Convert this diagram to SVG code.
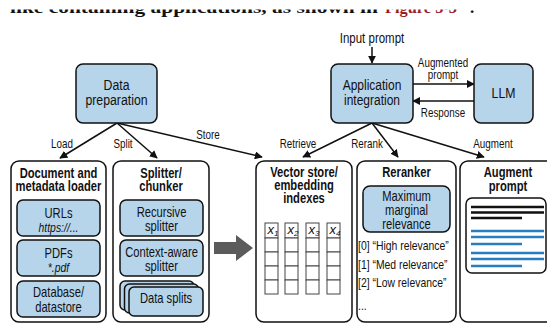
<svg xmlns="http://www.w3.org/2000/svg" width="547" height="323" viewBox="0 0 547 323">
  <defs>
    <style>
      text { font-family: 'Liberation Sans', Arial, sans-serif; fill: #111; }
      .node rect.box { fill: #b6d4ea; stroke: #111; stroke-width: 1.5; }
      .panel { fill: #fff; stroke: #111; stroke-width: 1.5; }
      .t15 { font-size: 15px; text-anchor: middle; }
      .t14 { font-size: 14px; text-anchor: middle; }
      .hdr { font-size: 14px; font-weight: bold; text-anchor: middle; }
      .lbl { font-size: 12px; text-anchor: middle; }
      .it { font-style: italic; font-size: 13px; }
      .lst { font-size: 13px; }
      .conn line { stroke: #111; stroke-width: 1.5; marker-end: url(#head); }
      .cell { fill: #fff; stroke: #444; stroke-width: 1; }
      .txt-black { stroke: #111; stroke-width: 2.5; }
      .txt-blue { stroke: #2a7cc0; stroke-width: 2.5; }
      .running { font-family: 'Liberation Serif', serif; font-weight: bold; font-size: 17px; }
    </style>
    <marker id="head" viewBox="0 0 10 10" refX="9" refY="5" markerWidth="8" markerHeight="8" markerUnits="userSpaceOnUse" orient="auto">
      <path d="M0,0 L10,5 L0,10 z" fill="#111"/>
    </marker>
  </defs>

  <rect width="547" height="323" fill="#fff"/>

  <!-- bottom edge of the preceding text line, the rest is cut off -->
  <g id="running-text">
    <text class="running" x="10" y="12.5" textLength="368" lengthAdjust="spacingAndGlyphs">like containing applications, as shown in</text>
    <text class="running" x="385" y="12.5" textLength="72" lengthAdjust="spacingAndGlyphs" style="fill:#9b1c1c">Figure 5-3</text>
    <text class="running" x="470" y="12.5">.</text>
    <rect x="0" y="0" width="547" height="9.5" fill="#fff"/>
  </g>

  <!-- connectors -->
  <g id="connectors" class="conn">
    <line x1="117" y1="123" x2="60" y2="158"/>
    <line x1="117" y1="123" x2="157" y2="158"/>
    <line x1="117" y1="123" x2="262" y2="157"/>
    <line x1="372" y1="47" x2="372" y2="63"/>
    <line x1="413" y1="84" x2="474" y2="84"/>
    <line x1="474" y1="101" x2="413" y2="101"/>
    <line x1="372" y1="123" x2="303" y2="157"/>
    <line x1="372" y1="123" x2="398" y2="157"/>
    <line x1="372" y1="123" x2="484" y2="157"/>
  </g>
  <g id="connector-labels">
    <text class="lbl" transform="translate(62 148) scale(0.82 1)">Load</text>
    <text class="lbl" transform="translate(123 148) scale(0.82 1)">Split</text>
    <text class="lbl" transform="translate(208 139) scale(0.82 1)">Store</text>
    <text class="lbl" style="font-size:14px" transform="translate(372 43) scale(0.82 1)">Input prompt</text>
    <text class="lbl" transform="translate(443 67) scale(0.82 1)">Augmented</text>
    <text class="lbl" transform="translate(443 79) scale(0.82 1)">prompt</text>
    <text class="lbl" transform="translate(443 117) scale(0.82 1)">Response</text>
    <text class="lbl" transform="translate(298 148) scale(0.82 1)">Retrieve</text>
    <text class="lbl" transform="translate(367 148) scale(0.82 1)">Rerank</text>
    <text class="lbl" transform="translate(493 148) scale(0.82 1)">Augment</text>
  </g>

  <!-- top row -->
  <g id="data-preparation" class="node">
    <rect class="box" x="76" y="64" width="81" height="59" rx="7"/>
    <text class="t15" transform="translate(116.5 90) scale(0.82 1)">Data</text>
    <text class="t15" transform="translate(116.5 105) scale(0.82 1)">preparation</text>
  </g>
  <g id="application-integration" class="node">
    <rect class="box" x="331" y="64" width="82" height="59" rx="7"/>
    <text class="t15" transform="translate(372 90) scale(0.8 1)">Application</text>
    <text class="t15" transform="translate(372 105) scale(0.8 1)">integration</text>
  </g>
  <g id="llm" class="node">
    <rect class="box" x="474" y="64" width="59" height="59" rx="7"/>
    <text class="t15" transform="translate(503.5 98) scale(0.82 1)">LLM</text>
  </g>

  <!-- transfer arrow between loading/splitting and storage -->
  <polygon points="214,242 236,242 236,235 253,248 236,261 236,254 214,254" fill="#5b5b5b"/>

  <!-- document and metadata loader -->
  <g id="loader" class="node">
    <rect class="panel" x="11" y="161" width="95" height="161" rx="8"/>
    <text class="hdr" transform="translate(58.5 178) scale(0.8 1)">Document and</text>
    <text class="hdr" transform="translate(58.5 191) scale(0.8 1)">metadata loader</text>
    <rect class="box" x="17" y="200" width="83" height="36" rx="6"/>
    <text class="t14" transform="translate(58.5 218) scale(0.8 1)">URLs</text>
    <text class="t14 it" transform="translate(58.5 232) scale(0.8 1)">https://...</text>
    <rect class="box" x="17" y="240" width="83" height="36" rx="6"/>
    <text class="t14" transform="translate(58.5 258) scale(0.8 1)">PDFs</text>
    <text class="t14 it" transform="translate(58.5 272) scale(0.8 1)">*.pdf</text>
    <rect class="box" x="17" y="281" width="83" height="36" rx="6"/>
    <text class="t14" transform="translate(58.5 297) scale(0.8 1)">Database/</text>
    <text class="t14" transform="translate(58.5 312) scale(0.8 1)">datastore</text>
  </g>

  <!-- splitter / chunker -->
  <g id="splitter" class="node">
    <rect class="panel" x="113" y="161" width="96" height="161" rx="8"/>
    <text class="hdr" transform="translate(161 178) scale(0.8 1)">Splitter/</text>
    <text class="hdr" transform="translate(161 191) scale(0.8 1)">chunker</text>
    <rect class="box" x="120" y="200" width="83" height="36" rx="6"/>
    <text class="t14" transform="translate(161.5 217) scale(0.8 1)">Recursive</text>
    <text class="t14" transform="translate(161.5 231) scale(0.8 1)">splitter</text>
    <rect class="box" x="120" y="240" width="83" height="36" rx="6"/>
    <text class="t14" transform="translate(161.5 257) scale(0.8 1)">Context-aware</text>
    <text class="t14" transform="translate(161.5 271) scale(0.8 1)">splitter</text>
    <rect class="box" x="120" y="281" width="74" height="29" rx="5"/>
    <rect class="box" x="124.5" y="284" width="74" height="29" rx="5"/>
    <rect class="box" x="129" y="287" width="74" height="29" rx="5"/>
    <text class="t14" transform="translate(166 303) scale(0.8 1)">Data splits</text>
  </g>

  <!-- vector store -->
  <g id="vector-store" class="node">
    <rect class="panel" x="256" y="161" width="96" height="161" rx="8"/>
    <text class="hdr" transform="translate(304 177) scale(0.8 1)">Vector store/</text>
    <text class="hdr" transform="translate(304 190) scale(0.8 1)">embedding</text>
    <text class="hdr" transform="translate(304 203) scale(0.8 1)">indexes</text>
    <g id="embedding-table">
      <rect class="cell" x="265" y="223" width="13" height="15"/>
      <rect class="cell" x="265" y="238" width="13" height="14"/>
      <rect class="cell" x="265" y="252" width="13" height="14"/>
      <rect class="cell" x="265" y="266" width="13" height="14"/>
      <rect class="cell" x="265" y="280" width="13" height="14"/>
      <rect class="cell" x="285" y="223" width="13" height="15"/>
      <rect class="cell" x="285" y="238" width="13" height="14"/>
      <rect class="cell" x="285" y="252" width="13" height="14"/>
      <rect class="cell" x="285" y="266" width="13" height="14"/>
      <rect class="cell" x="285" y="280" width="13" height="14"/>
      <rect class="cell" x="306" y="223" width="13" height="15"/>
      <rect class="cell" x="306" y="238" width="13" height="14"/>
      <rect class="cell" x="306" y="252" width="13" height="14"/>
      <rect class="cell" x="306" y="266" width="13" height="14"/>
      <rect class="cell" x="306" y="280" width="13" height="14"/>
      <rect class="cell" x="327" y="223" width="13" height="15"/>
      <rect class="cell" x="327" y="238" width="13" height="14"/>
      <rect class="cell" x="327" y="252" width="13" height="14"/>
      <rect class="cell" x="327" y="266" width="13" height="14"/>
      <rect class="cell" x="327" y="280" width="13" height="14"/>
      <text class="it" x="267.5" y="233.5">x<tspan font-size="8" dy="2">1</tspan></text>
      <text class="it" x="287.5" y="233.5">x<tspan font-size="8" dy="2">2</tspan></text>
      <text class="it" x="308.5" y="233.5">x<tspan font-size="8" dy="2">3</tspan></text>
      <text class="it" x="329.5" y="233.5">x<tspan font-size="8" dy="2">4</tspan></text>
    </g>
  </g>

  <!-- reranker -->
  <g id="reranker" class="node">
    <rect class="panel" x="357" y="161" width="99" height="161" rx="8"/>
    <text class="hdr" transform="translate(406.5 177) scale(0.8 1)">Reranker</text>
    <rect class="box" x="363" y="186" width="87" height="46" rx="7"/>
    <text class="t14" transform="translate(406.5 201) scale(0.8 1)">Maximum</text>
    <text class="t14" transform="translate(406.5 215) scale(0.8 1)">marginal</text>
    <text class="t14" transform="translate(406.5 229) scale(0.8 1)">relevance</text>
    <text class="lst" transform="translate(358 250) scale(0.8 1)">[0] “High relevance”</text>
    <text class="lst" transform="translate(358 269) scale(0.8 1)">[1] “Med relevance”</text>
    <text class="lst" transform="translate(358 287) scale(0.8 1)">[2] “Low relevance”</text>
    <text class="lst" transform="translate(358 310) scale(0.8 1)">...</text>
  </g>

  <!-- augment prompt -->
  <g id="augment-prompt" class="node">
    <rect class="panel" x="460" y="161" width="95" height="161" rx="8"/>
    <text class="hdr" transform="translate(508 177) scale(0.8 1)">Augment</text>
    <text class="hdr" transform="translate(508 191) scale(0.8 1)">prompt</text>
    <rect x="466" y="198" width="80" height="75" rx="6" fill="#fff" stroke="#111" stroke-width="1.5"/>
    <line class="txt-black" x1="471" y1="207" x2="544" y2="207"/>
    <line class="txt-black" x1="471" y1="212.5" x2="544" y2="212.5"/>
    <line class="txt-black" x1="471" y1="218" x2="522" y2="218"/>
    <line class="txt-blue" x1="471" y1="231" x2="544" y2="231"/>
    <line class="txt-blue" x1="471" y1="237" x2="544" y2="237"/>
    <line class="txt-blue" x1="471" y1="244" x2="522" y2="244"/>
    <line class="txt-blue" x1="471" y1="253" x2="544" y2="253"/>
    <line class="txt-blue" x1="471" y1="259" x2="544" y2="259"/>
    <line class="txt-blue" x1="471" y1="266" x2="522" y2="266"/>
  </g>
</svg>
